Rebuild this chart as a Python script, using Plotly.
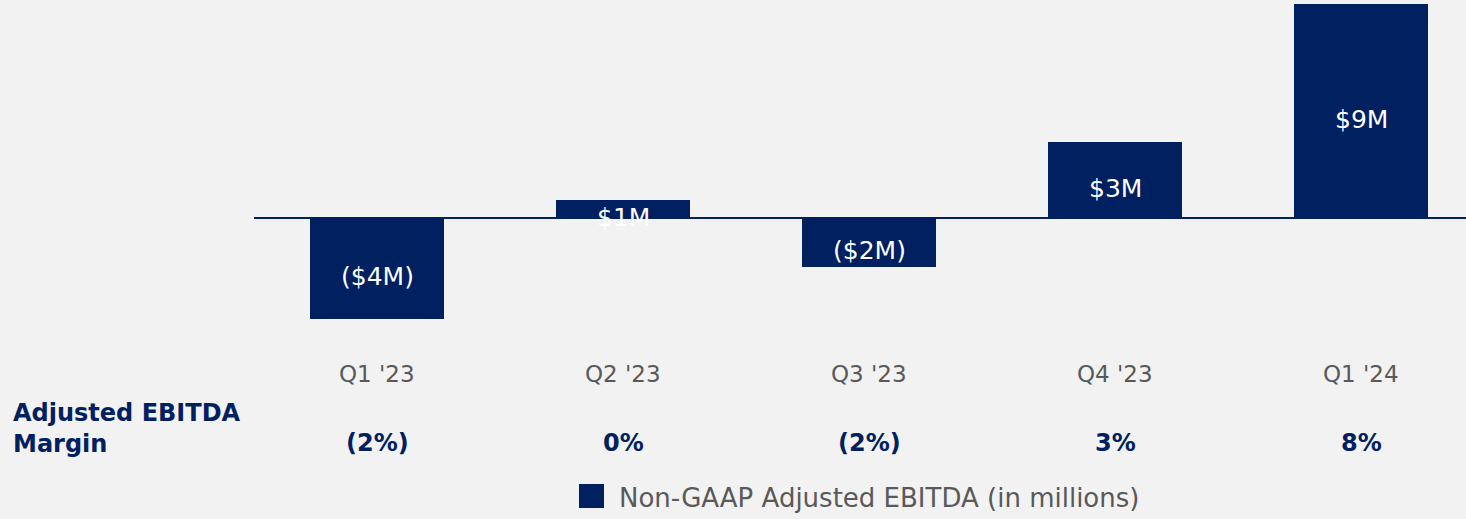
import plotly.graph_objects as go

categories = ["Q1 '23", "Q2 '23", "Q3 '23", "Q4 '23", "Q1 '24"]
ebitda = [-4.0, 0.7, -1.95, 3.0, 8.45]
bar_labels = ["($4M)", "$1M", "($2M)", "$3M", "$9M"]
margins = ["(2%)", "0%", "(2%)", "3%", "8%"]
legend_name = "Non-GAAP Adjusted EBITDA (in millions)"
row_title = "Adjusted EBITDA<br>Margin"

NAVY = "#002060"
GRAY = "#595959"
BG = "#f2f2f2"
FONT = "DejaVu Sans, sans-serif"

W, H = 1466, 519
px_per_unit = 25.3
zero_px = 218
plot_bottom_px = 330
y_top = zero_px / px_per_unit
y_bot = -(plot_bottom_px - zero_px) / px_per_unit

fig = go.Figure()
fig.add_trace(go.Bar(
    x=list(range(len(categories))), y=ebitda, width=0.545,
    marker=dict(color=NAVY, line=dict(width=0)),
    name=legend_name, showlegend=False, hoverinfo="skip",
))

annotations = []
for i, (v, lab) in enumerate(zip(ebitda, bar_labels)):
    annotations.append(dict(x=i, y=v / 2, xref="x", yref="y", text=lab,
                            showarrow=False, yshift=-8,
                            font=dict(family=FONT, size=25, color="white")))
for i, c in enumerate(categories):
    annotations.append(dict(x=i, y=1 - 374 / H, xref="x", yref="paper", text=c,
                            showarrow=False, yanchor="middle",
                            font=dict(family=FONT, size=23, color=GRAY)))
for i, m in enumerate(margins):
    annotations.append(dict(x=i, y=1 - 443 / H, xref="x", yref="paper", text="<b>%s</b>" % m,
                            showarrow=False, yanchor="middle",
                            font=dict(family=FONT, size=24, color=NAVY)))
annotations.append(dict(x=11 / W, y=1 - 428 / H, xref="paper", yref="paper", text="<b>%s</b>" % row_title,
                        showarrow=False, xanchor="left", yanchor="middle", align="left",
                        font=dict(family=FONT, size=24, color=NAVY)))
annotations.append(dict(x=617 / W, y=1 - 498 / H, xref="paper", yref="paper", text=legend_name,
                        showarrow=False, xanchor="left", yanchor="middle",
                        font=dict(family=FONT, size=26, color=GRAY)))

shapes = [dict(type="rect", xref="paper", yref="paper",
               x0=579 / W, x1=604 / W, y0=1 - 508 / H, y1=1 - 484 / H,
               fillcolor=NAVY, line=dict(width=0))]

x_lo = -0.5
x_hi = x_lo + (W - 254) / 246.0

fig.update_layout(
    width=W, height=H,
    margin=dict(l=0, r=0, t=0, b=0),
    paper_bgcolor=BG, plot_bgcolor=BG,
    xaxis=dict(domain=[254 / W, 1], range=[x_lo, x_hi], showticklabels=False,
               showgrid=False, zeroline=False, showline=False, fixedrange=True),
    yaxis=dict(domain=[1 - plot_bottom_px / H, 1], range=[y_bot, y_top], showticklabels=False,
               showgrid=False, zeroline=True, zerolinecolor=NAVY, zerolinewidth=2,
               showline=False, fixedrange=True),
    annotations=annotations, shapes=shapes,
    bargap=0,
)

fig.write_html(
    "out.html",
    config={"displayModeBar": False},
    post_script="document.body.style.margin='0';document.body.style.padding='0';"
                "document.body.style.overflow='hidden';",
)
